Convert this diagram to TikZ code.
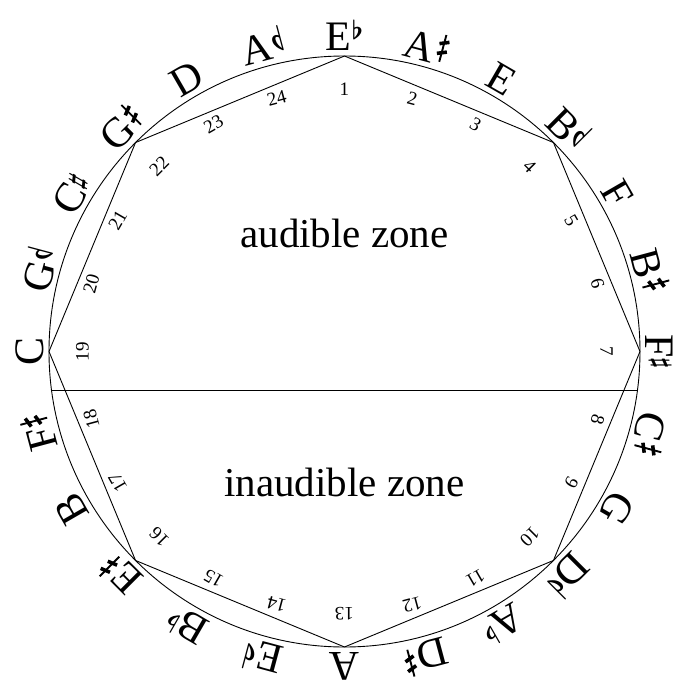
\documentclass[tikz,border=0pt]{standalone}
\usepackage{fontspec}
\setmainfont{Liberation Serif}
\usepackage{graphicx}
\usepackage{tikz}

% accidentals
\newcommand{\accfl}{\raisebox{0.25em}{\scalebox{2.6}{\normalsize\boldmath$\flat$}}}
\newcommand{\accsh}{\raisebox{0.2em}{\scalebox{2.5}{\normalsize\boldmath$\sharp$}}}
\newcommand{\acchf}{\raisebox{0.15em}{\reflectbox{\scalebox{2.8}[3.4]{\normalsize\boldmath$\flat$}}}}
\newcommand{\acchs}{\kern0.06em\raisebox{0.08em}{\makebox[0.24em][l]{%
  \rlap{\kern0.1em\rule{0.045em}{0.66em}}%
  \rlap{\raisebox{0.14em}{\rotatebox{22}{\rule{0.24em}{0.085em}}}}%
  \raisebox{0.38em}{\rotatebox{22}{\rule{0.24em}{0.085em}}}}}}

\begin{document}
\begin{tikzpicture}[
    x=1pt, y=1pt,
    rim/.style={line width=0.9pt},
    note/.style={font=\fontsize{42}{42}\selectfont, anchor=base, inner sep=0pt},
    num/.style={font=\fontsize{19}{19}\selectfont, inner sep=0pt},
    zone/.style={font=\fontsize{41}{41}\selectfont, anchor=base, inner sep=0pt},
]
    \useasboundingbox (-344.5,-329.5) rectangle (332.5,351.5);
    \coordinate (c) at (0,0);
    \draw[rim] (c) circle[radius=295.5];

    % octagon
    \foreach \k in {0,...,7}
        \coordinate (v\k) at (90-45*\k:295.5);
    \draw[rim, line join=miter] (v0) -- (v1) -- (v2) -- (v3) -- (v4) -- (v5) -- (v6) -- (v7) -- cycle;

    % threshold line
    \coordinate (hl) at (187.5:295.5);
    \coordinate (hr) at (-7.5:295.5);
    \draw[rim] (hl) -- (hr);

    % note names
    \foreach \lab [count=\i from 0] in {E\accfl, A\acchs, E, B\acchf, F, B\acchs, F\accsh, C\acchs, G, D\acchf, A\accfl, D\acchs, A, E\acchf, B\accfl, E\acchs, B, F\acchs, C, G\acchf, C\accsh, G\acchs, D, A\acchf}
        \node[note, rotate=-15*\i] (n\i) at (90-15*\i:301) {\lab};

    % step numbers
    \foreach \i in {1,...,24}
        \node[num, rotate=15-15*\i] (k\i) at (105-15*\i:262) {\i};

    \node[zone] (aud) at (0,104.5) {audible zone};
    \node[zone] (inaud) at (0,-144.5) {inaudible zone};
\end{tikzpicture}
\end{document}
